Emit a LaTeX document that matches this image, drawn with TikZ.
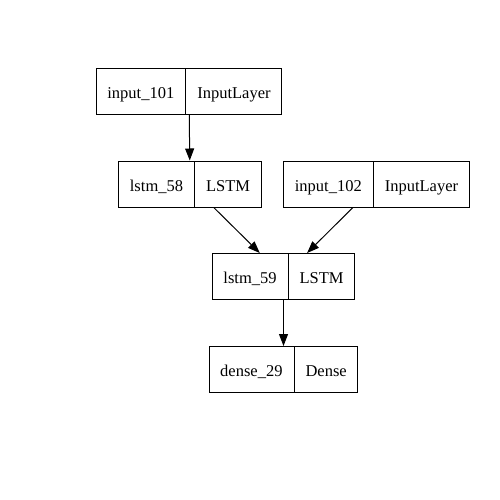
\documentclass[tikz,border=0pt]{standalone}
\usepackage{fontspec}
\setmainfont{Liberation Serif}
\usetikzlibrary{shapes.multipart,arrows.meta}
% strut that sets the text a little below the middle of each cell
\newcommand{\cellstrut}{\rule[-4pt]{0pt}{22pt}}
\newcommand{\layer}[2]{\cellstrut#1\nodepart{two}\cellstrut#2}
\begin{document}
\begin{tikzpicture}[x=1pt,y=-1pt,
			every node/.style={rectangle split,rectangle split horizontal,rectangle split parts=2,
				draw,line width=1pt,font=\fontsize{16.5}{18}\selectfont,
				inner xsep=11pt,inner ysep=12pt},
			>={Triangle[length=12pt,width=9pt]},line width=1pt]
			
			% Page frame
			\useasboundingbox (0,0) rectangle (500,500);
			
			% Layers: name | type
			\node (in101) at (189,91.5) {\layer{input\_101}{InputLayer}};
			\node (lstm58) at (190,184) {\layer{lstm\_58}{LSTM}};
			\node (in102) at (376.5,184) {\layer{input\_102}{InputLayer}};
			\node (lstm59) at (283.5,276.5) {\layer{lstm\_59}{LSTM}};
			\node (dense29) at (283.5,369.5) {\layer{dense\_29}{Dense}};
			
			% Connections between layers
			\foreach \a/\b in {in101/lstm58,lstm58/lstm59,in102/lstm59,lstm59/dense29}{
				\draw[->] (\a) -- (\b);
			}
			
		\end{tikzpicture}
\end{document}
